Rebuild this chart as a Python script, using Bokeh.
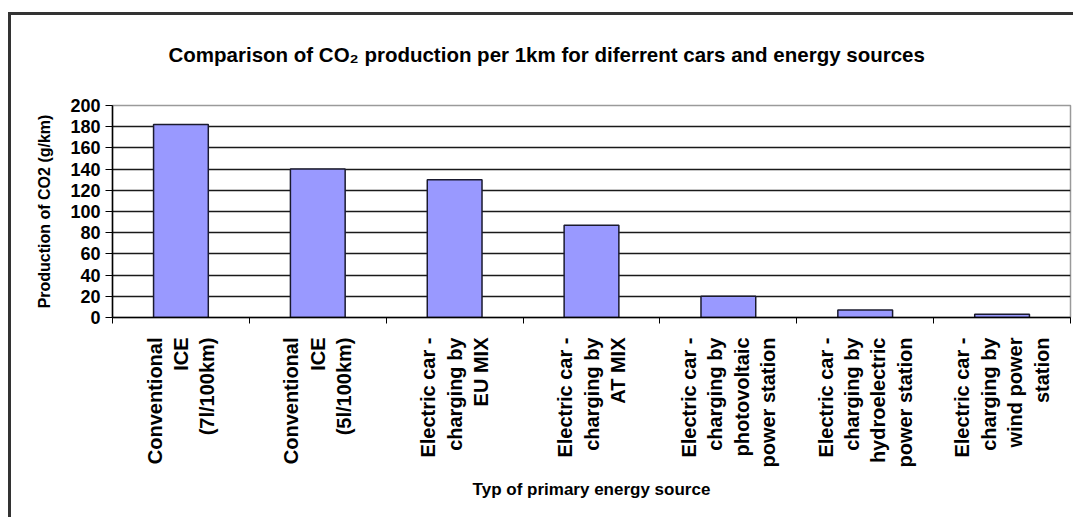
import math
from bokeh.plotting import figure
from bokeh.models import Range1d, LinearAxis, FixedTicker
from bokeh.embed import file_html
from bokeh.resources import INLINE

categories = [
    "Conventional\nICE\n(7l/100km)",
    "Conventional\nICE\n(5l/100km)",
    "Electric car -\ncharging by\nEU MIX",
    "Electric car -\ncharging by\nAT MIX",
    "Electric car -\ncharging by\nphotovoltaic\npower station",
    "Electric car -\ncharging by\nhydroelectric\npower station",
    "Electric car -\ncharging by\nwind power\nstation",
]
co2_g_per_km = [182, 140, 130, 87, 20, 7, 3]
y_ticks = [0, 20, 40, 60, 80, 100, 120, 140, 160, 180, 200]

title_text = "Comparison of CO\u2082 production per 1km for diferrent cars and energy sources"
x_title = "Typ of primary energy source"
y_title = "Production of CO2 (g/km)"

FONT = "Liberation Sans"

# category slots on a numeric axis: slot i spans [i, i+1]
n = len(categories)
centers = [i + 0.5 for i in range(n)]
bounds = list(range(n + 1))

css = """
:host::after {
  content: '';
  position: absolute;
  left: 8px; top: 12px; right: -10px; bottom: -10px;
  border-left: 3px solid #333333;
  border-top: 3px solid #333333;
  pointer-events: none;
}
"""

p = figure(
    width=1073, height=517,
    x_range=Range1d(0, n), y_range=Range1d(0, 200),
    output_backend="svg", toolbar_location=None, tools="",
    min_border_left=112, min_border_right=3, min_border_top=104, min_border_bottom=200,
    background_fill_color=None, border_fill_color=None,
    title=title_text,
    stylesheets=[css],
)

p.title.text_font = FONT
p.title.text_font_size = "20.5px"
p.title.text_font_style = "bold"
p.title.text_color = "#000000"
p.title.align = "left"
p.title.offset = 56
p.title.standoff = 80

p.vbar(x="x", top="top", width=0.4, source={"x": centers, "top": co2_g_per_km},
       fill_color="#9999FF", line_color="#1a1a2e", line_width=1.5)

# grid
p.xgrid.visible = False
p.ygrid.ticker = FixedTicker(ticks=y_ticks)
p.ygrid.grid_line_color = "#1a1a1a"
p.ygrid.grid_line_width = 1.6
p.outline_line_color = "#9a9a9a"
p.outline_line_width = 1.5

# y axis
ya = p.yaxis[0]
ya.ticker = FixedTicker(ticks=y_ticks)
ya.axis_line_color = "#000000"
ya.axis_line_width = 1.5
ya.major_tick_out = 7
ya.major_tick_in = 0
ya.major_tick_line_color = "#000000"
ya.minor_tick_line_color = None
ya.major_label_text_font = FONT
ya.major_label_text_font_size = "18px"
ya.major_label_text_font_style = "bold"
ya.major_label_text_color = "#000000"
ya.major_label_standoff = 5
ya.axis_label = y_title
ya.axis_label_text_font = FONT
ya.axis_label_text_font_size = "16px"
ya.axis_label_text_font_style = "bold"
ya.axis_label_text_color = "#000000"
ya.axis_label_standoff = 14

# x axis: tick marks at category boundaries, no numeric labels
xa = p.xaxis[0]
xa.ticker = FixedTicker(ticks=bounds)
xa.major_label_overrides = {b: "" for b in bounds}
xa.axis_line_color = "#000000"
xa.axis_line_width = 1.5
xa.major_tick_out = 6
xa.major_tick_in = 0
xa.major_tick_line_color = "#000000"
xa.minor_tick_line_color = None
xa.major_label_standoff = 0

# category label axis
ca = LinearAxis(ticker=FixedTicker(ticks=centers))
ca.major_label_overrides = {c: lab for c, lab in zip(centers, categories)}
ca.axis_line_color = None
ca.major_tick_line_color = None
ca.minor_tick_line_color = None
ca.major_label_orientation = math.pi / 2
ca.major_label_text_align = "center"
ca.major_label_text_font = FONT
ca.major_label_text_font_size = "20px"
ca.major_label_text_font_style = "bold"
ca.major_label_text_color = "#000000"
ca.major_label_standoff = 8
ca.axis_label = x_title
ca.axis_label_text_font = FONT
ca.axis_label_text_font_size = "17px"
ca.axis_label_text_font_style = "bold"
ca.axis_label_text_color = "#000000"
ca.axis_label_standoff = 9
p.add_layout(ca, "below")

open("out.html", "w").write(file_html(p, INLINE))
